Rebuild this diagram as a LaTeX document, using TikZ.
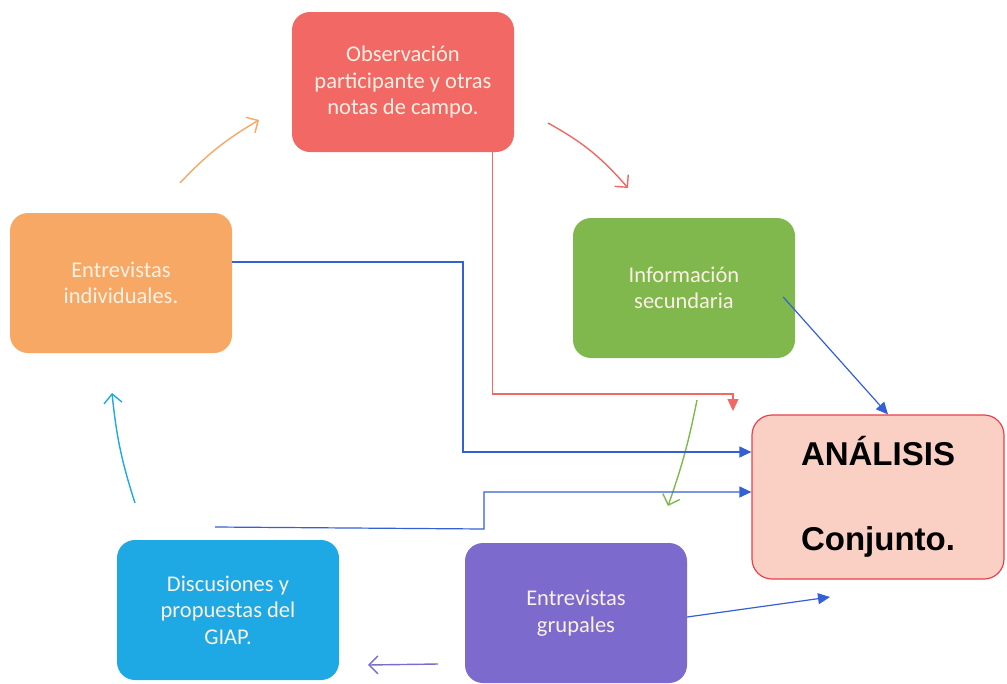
\documentclass[tikz,border=0pt]{standalone}
\usepackage{fontspec}
\setmainfont{Carlito}
\newfontfamily\anafont{Liberation Sans}
\usetikzlibrary{arrows.meta}

\definecolor{obsred}{RGB}{242,104,100}
\definecolor{indorange}{RGB}{246,168,100}
\definecolor{infogreen}{RGB}{128,184,78}
\definecolor{discblue}{RGB}{30,168,228}
\definecolor{grppurple}{RGB}{124,106,204}
\definecolor{anafill}{RGB}{250,208,196}
\definecolor{anaborder}{RGB}{232,64,76}
\definecolor{lineblue}{RGB}{52,96,214}
\definecolor{boxtext}{RGB}{250,240,228}

\tikzset{
  caja/.style={rounded corners=18pt, minimum width=222pt, minimum height=140pt,
    align=center, text=boxtext, font=\fontsize{22.5}{26.5}\selectfont},
  conector/.style={line width=1.2pt, -{Triangle[length=12pt,width=11pt]}},
  curva/.style={line width=1.4pt, -{Straight Barb[length=9pt,width=18pt]}}
}

\begin{document}
\begin{tikzpicture}[x=1pt,y=-1pt]
  \useasboundingbox (0,0) rectangle (1007,683);

  \node[caja, fill=obsred] (obs) at (403,82) {Observación\\participante y otras\\notas de campo.};
  \node[caja, fill=indorange] (ind) at (121,283) {Entrevistas\\individuales.};
  \node[caja, fill=infogreen] (info) at (684,288) {Información\\secundaria};
  \node[caja, fill=discblue] (disc) at (228,610) {Discusiones y\\propuestas del\\GIAP.};
  \node[caja, fill=grppurple] (grp) at (576,613) {Entrevistas\\grupales};
  \node[rounded corners=20pt, minimum width=252pt, minimum height=164pt, fill=anafill,
    draw=anaborder, line width=1.2pt, align=center, font=\anafont\bfseries\fontsize{33}{85}\selectfont]
    (ana) at (878,497) {ANÁLISIS\\Conjunto.};

  % extremos libres de las flechas curvas
  \coordinate (o1) at (180,183);
  \coordinate (o2) at (259,120);
  \coordinate (r1) at (548,123);
  \coordinate (r2) at (628,188);
  \coordinate (g1) at (697,400);
  \coordinate (g2) at (668,506);
  \coordinate (c1) at (135,503);
  \coordinate (c2) at (112,393);
  \coordinate (p1) at (438,664);
  \coordinate (p2) at (368,665);
  \coordinate (d1) at (215,527);
  \coordinate (e1) at (830,597);

  % ciclo
  \draw[curva, indorange] (o1) to[bend left=8] (o2);
  \draw[curva, obsred] (r1) to[bend left=10] (r2);
  \draw[curva, infogreen] (g1) to[bend left=4] (g2);
  \draw[curva, grppurple] (p1) -- (p2);
  \draw[curva, discblue] (c1) to[bend left=6] (c2);

  % hacia el analisis
  \draw[conector, obsred] ([xshift=-22pt]obs.south east) |- (733,394) -- (733,411);
  \draw[conector, lineblue] ([yshift=21pt]ind.east) -| (463,452) -- ([yshift=45pt]ana.west);
  \draw[conector, lineblue] ([xshift=-12pt,yshift=-9pt]info.east) -- ([xshift=10pt]ana.north);
  \draw[conector, lineblue] (d1) -- (484,529) -- (484,492) -- ([yshift=5pt]ana.west);
  \draw[conector, lineblue] ([yshift=-4pt]grp.east) -- (e1);
\end{tikzpicture}
\end{document}
